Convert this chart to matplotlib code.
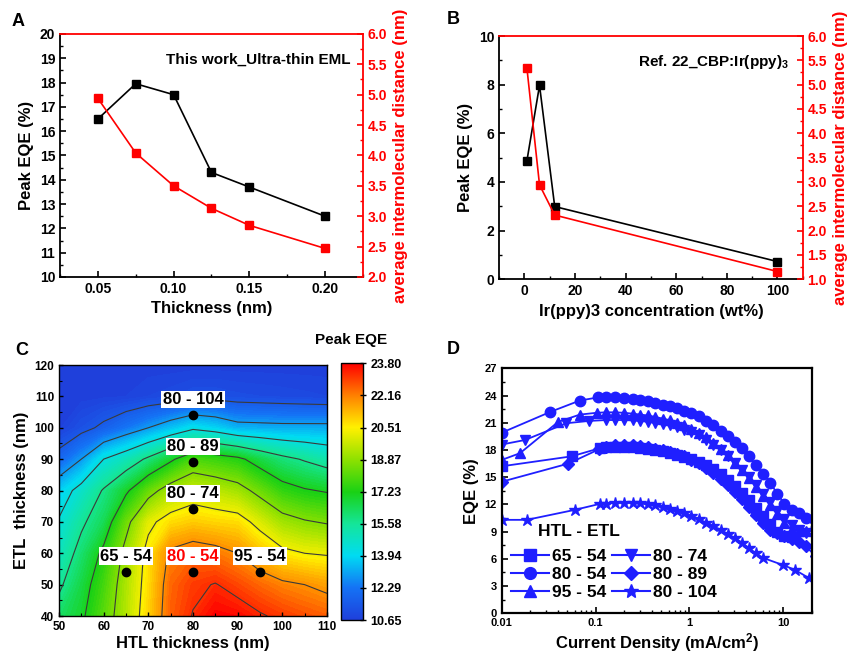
import numpy as np
import matplotlib
matplotlib.use("Agg")
import matplotlib.pyplot as plt
import matplotlib.cm as cm
from matplotlib.colors import LinearSegmentedColormap, Normalize
from matplotlib.ticker import MultipleLocator, FixedLocator, FormatStrFormatter, NullFormatter, LogLocator
from matplotlib.lines import Line2D

plt.rcParams['font.family'] = ['Liberation Sans', 'DejaVu Sans']
plt.rcParams['font.weight'] = 'bold'
plt.rcParams['axes.labelweight'] = 'bold'
plt.rcParams['mathtext.fontset'] = 'custom'
plt.rcParams['mathtext.rm'] = 'Liberation Sans:bold'
plt.rcParams['mathtext.bf'] = 'Liberation Sans:bold'
plt.rcParams['mathtext.default'] = 'bf'
plt.rcParams['xtick.direction'] = 'in'
plt.rcParams['ytick.direction'] = 'in'

# ---------------- panel A data
thick_a = [0.05, 0.075, 0.10, 0.125, 0.15, 0.20]
eqe_a = [16.5, 17.95, 17.5, 14.3, 13.7, 12.5]
dist_a = [4.94, 4.04, 3.50, 3.13, 2.85, 2.47]

# ---------------- panel B data
conc_b = [1, 6, 12, 100]
eqe_b = [4.86, 7.97, 2.99, 0.73]
dist_b = [5.35, 2.94, 2.32, 1.16]

# ---------------- panel C data (peak EQE map, rows = ETL, cols = HTL)
htl_c = [50, 55, 60, 65, 70, 75, 80, 85, 90, 95, 100, 105, 110]
etl_c = [40, 50, 60, 70, 80, 90, 100, 110, 120]
eqe_map = [
    [16.2, 16.9, 18.1, 19.4, 20.9, 22.55, 23.25, 23.8, 23.7, 23.3, 23.0, 22.75, 22.55],
    [15.5, 16.6, 17.8, 19.3, 20.75, 22.45, 23.0, 23.25, 22.85, 22.45, 22.1, 21.9, 21.65],
    [14.9, 16.1, 17.35, 19.05, 20.65, 22.1, 22.45, 22.25, 21.9, 21.2, 20.55, 20.3, 20.2],
    [14.4, 15.5, 16.4, 18.35, 20.05, 20.75, 21.0, 20.85, 20.75, 19.95, 19.15, 18.8, 18.6],
    [13.7, 14.7, 15.8, 16.9, 18.25, 19.25, 19.75, 19.5, 19.15, 18.35, 17.55, 17.2, 17.0],
    [11.9, 12.9, 14.3, 15.0, 15.9, 16.9, 17.9, 17.65, 17.35, 16.6, 16.0, 15.6, 15.2],
    [10.7, 11.2, 11.7, 12.3, 12.9, 13.5, 14.1, 13.8, 13.3, 13.25, 13.2, 13.2, 13.2],
    [10.65, 10.65, 10.7, 10.75, 10.9, 11.0, 11.2, 11.2, 11.1, 11.05, 11.0, 10.95, 10.9],
    [10.65, 10.65, 10.65, 10.65, 10.65, 10.65, 10.65, 10.65, 10.65, 10.65, 10.65, 10.65, 10.65],
]
line_levels = [11.5, 12.9, 14.3, 15.7, 17.1, 18.7, 20.3, 21.9, 23.2]
cbar_ticks = [10.65, 12.29, 13.94, 15.58, 17.23, 18.87, 20.51, 22.16, 23.80]
pt_htl = [80, 80, 80, 65, 80, 95]
pt_etl = [104, 89, 74, 54, 54, 54]
pt_text = ['80 - 104', '80 - 89', '80 - 74', '65 - 54', '80 - 54', '95 - 54']

# ---------------- panel D data (EQE vs current density)
j_grid = [0.13, 0.16, 0.2, 0.25, 0.3, 0.36, 0.43, 0.52, 0.62, 0.74, 0.88, 1.05, 1.25, 1.5,
          1.8, 2.15, 2.55, 3.05, 3.6, 4.3, 5.1, 6.1, 7.2, 8.6, 10.2, 12.2, 14.5, 17.3, 22]

j_6554 = [0.01, 0.0556, 0.111] + j_grid[:26]
q_6554 = [16.2, 17.3, 18.2, 18.3, 18.35, 18.35, 18.3, 18.2, 18.1, 18.0, 17.85, 17.7, 17.5,
          17.25, 17.0, 16.7, 16.3, 15.85, 15.3, 14.7, 14.0, 13.3, 12.5, 11.6, 10.7, 9.8,
          9.0, 8.5, 8.4]
j_8054 = [0.01, 0.033, 0.068, 0.107] + j_grid
q_8054 = [19.9, 22.2, 23.45, 23.8, 23.85, 23.85, 23.75, 23.6, 23.5, 23.35, 23.2, 23.0, 22.85,
          22.6, 22.35, 22.05, 21.7, 21.2, 20.7, 20.1, 19.5, 18.9, 18.2, 17.3, 16.3, 15.4,
          14.4, 13.2, 12.1, 11.4, 11.0, 10.5, 9.5]
j_9554 = [0.01, 0.0157, 0.040, 0.068, 0.103] + j_grid
q_9554 = [16.9, 17.65, 21.1, 21.9, 22.1, 22.15, 22.15, 22.1, 22.0, 21.9, 21.8, 21.65, 21.45,
          21.25, 21.0, 20.7, 20.35, 19.9, 19.4, 18.8, 18.1, 17.4, 16.6, 15.8, 14.9, 13.9,
          12.9, 11.9, 10.9, 9.9, 9.3, 9.1, 9.1, 9.0]
j_8074 = [0.01, 0.0177, 0.049, 0.085] + j_grid
q_8074 = [18.6, 19.1, 20.95, 21.2, 21.3, 21.3, 21.3, 21.25, 21.2, 21.1, 21.0, 20.85, 20.7,
          20.5, 20.25, 19.95, 19.6, 19.1, 18.6, 18.0, 17.3, 16.6, 15.8, 15.0, 14.1, 13.2,
          12.3, 11.3, 10.4, 9.7, 9.2, 8.9, 8.6]
j_8089 = [0.01, 0.0513, 0.11] + j_grid
q_8089 = [14.5, 16.5, 18.1, 18.35, 18.5, 18.55, 18.5, 18.4, 18.3, 18.15, 18.0, 17.8, 17.55,
          17.3, 16.95, 16.55, 16.05, 15.5, 14.85, 14.15, 13.4, 12.6, 11.7, 10.8, 9.9, 9.2,
          8.8, 8.5, 8.2, 7.9, 7.4, 6.3]
j_80104 = [0.01, 0.0185, 0.060, 0.111] + j_grid[:22] + [10.0, 13.2, 18.6, 24]
q_80104 = [10.3, 10.3, 11.4, 12.06, 12.1, 12.2, 12.2, 12.2, 12.15, 12.0, 11.9, 11.7, 11.5,
           11.25, 11.0, 10.7, 10.4, 10.0, 9.6, 9.2, 8.75, 8.3, 7.8, 7.2, 6.6, 6.1,
           5.3, 4.8, 3.9, 3.3]

fig = plt.figure(figsize=(8.51, 6.57), dpi=100)


def style_spines(ax, lw=1.3):
    for s in ax.spines.values():
        s.set_linewidth(lw)


def twin_dist(ax, x, y, lo, hi):
    # red right-hand axis: average intermolecular distance
    ax2 = ax.twinx()
    ax2.plot(x, y, '-s', color='red', ms=6, lw=1.2)
    ax2.set_ylim(lo, hi)
    ax2.yaxis.set_major_locator(MultipleLocator(0.5))
    ax2.yaxis.set_minor_locator(MultipleLocator(0.25))
    ax2.yaxis.set_major_formatter(FormatStrFormatter('%.1f'))
    ax2.tick_params(labelsize=10, length=4, width=1.2, colors='red')
    ax2.tick_params(which='minor', length=2.5, width=1, colors='red')
    ax2.set_ylabel('average intermolecular distance (nm)', fontsize=12, color='red')
    style_spines(ax)
    style_spines(ax2)
    ax.spines['right'].set_visible(False)
    ax.spines['top'].set_visible(False)
    ax2.spines['left'].set_visible(False)
    ax2.spines['bottom'].set_visible(False)
    ax2.spines['right'].set_color('red')
    ax2.spines['top'].set_color('red')
    return ax2


# ================= A
axA = fig.add_axes([0.0705, 0.5784, 0.356, 0.370])
axA.plot(thick_a, eqe_a, '-s', color='black', ms=6, lw=1.2)
axA.set_xlim(0.025, 0.225)
axA.set_ylim(10, 20)
axA.xaxis.set_major_locator(FixedLocator([0.05, 0.10, 0.15, 0.20]))
axA.xaxis.set_major_formatter(FormatStrFormatter('%.2f'))
axA.xaxis.set_minor_locator(MultipleLocator(0.025))
axA.yaxis.set_major_locator(MultipleLocator(1))
axA.yaxis.set_minor_locator(MultipleLocator(0.5))
axA.tick_params(labelsize=10, length=4, width=1.2)
axA.tick_params(which='minor', length=2.5, width=1)
axA.set_xlabel('Thickness (nm)', fontsize=12)
axA.set_ylabel('Peak EQE (%)', fontsize=12)
axA.text(0.96, 0.895, 'This work_Ultra-thin EML', transform=axA.transAxes,
         ha='right', va='center', fontsize=11)
twin_dist(axA, thick_a, dist_a, 2.0, 6.0)

# ================= B
axB = fig.add_axes([0.5864, 0.5749, 0.3569, 0.3703])
axB.plot(conc_b, eqe_b, '-s', color='black', ms=6, lw=1.2)
axB.set_xlim(-10, 110)
axB.set_ylim(0, 10)
axB.xaxis.set_major_locator(FixedLocator([0, 20, 40, 60, 80, 100]))
axB.xaxis.set_minor_locator(MultipleLocator(10))
axB.yaxis.set_major_locator(MultipleLocator(2))
axB.yaxis.set_minor_locator(MultipleLocator(1))
axB.tick_params(labelsize=10, length=4, width=1.2)
axB.tick_params(which='minor', length=2.5, width=1)
axB.set_xlabel('Ir(ppy)3 concentration (wt%)', fontsize=12)
axB.set_ylabel('Peak EQE (%)', fontsize=12)
axB.text(0.955, 0.895, r'Ref. 22_CBP:Ir(ppy)$_3$', transform=axB.transAxes,
         ha='right', va='center', fontsize=11)
twin_dist(axB, conc_b, dist_b, 1.0, 6.0)

# ================= C
cmap = LinearSegmentedColormap.from_list('eqe', [
    (0.000, (0.12, 0.25, 0.86)),
    (0.125, (0.08, 0.45, 0.96)),
    (0.250, (0.00, 0.86, 0.95)),
    (0.375, (0.08, 0.90, 0.60)),
    (0.500, (0.10, 0.82, 0.08)),
    (0.625, (0.55, 0.88, 0.00)),
    (0.750, (1.00, 0.94, 0.00)),
    (0.875, (1.00, 0.50, 0.00)),
    (1.000, (1.00, 0.00, 0.00)),
])
axC = fig.add_axes([0.0693, 0.0624, 0.3149, 0.382])
H, E = np.meshgrid(htl_c, etl_c)
Z = np.array(eqe_map)
axC.contourf(H, E, Z, levels=np.linspace(10.6, 23.85, 90), cmap=cmap,
             norm=Normalize(10.65, 23.80))
axC.contour(H, E, Z, levels=line_levels, colors='#3a3a3a', linewidths=0.8)
axC.plot(pt_htl, pt_etl, 'o', color='black', ms=6)
for x, y, t in zip(pt_htl, pt_etl, pt_text):
    axC.annotate(t, (x, y), xytext=(0, 6), textcoords='offset points',
                 ha='center', va='bottom', fontsize=12,
                 color='red' if t == '80 - 54' else 'black',
                 bbox=dict(boxstyle='square,pad=0.08', fc='white', ec='none'))
axC.set_xlim(50, 110)
axC.set_ylim(40, 120)
axC.xaxis.set_major_locator(MultipleLocator(10))
axC.xaxis.set_minor_locator(MultipleLocator(5))
axC.yaxis.set_major_locator(MultipleLocator(10))
axC.yaxis.set_minor_locator(MultipleLocator(5))
axC.tick_params(labelsize=8.5, length=3, width=1)
axC.tick_params(which='minor', length=2, width=0.8)
axC.set_xlabel('HTL thickness (nm)', fontsize=12, labelpad=2)
axC.set_ylabel('ETL  thickness (nm)', fontsize=12)
style_spines(axC, 1.0)

cax = fig.add_axes([0.4003, 0.0563, 0.0259, 0.3907])
cb = fig.colorbar(cm.ScalarMappable(norm=Normalize(10.65, 23.80), cmap=cmap), cax=cax)
cb.set_ticks(cbar_ticks)
cb.ax.set_yticklabels(['%.2f' % t for t in cbar_ticks])
cb.ax.tick_params(labelsize=9, length=4, width=1, direction='inout')
cb.outline.set_linewidth(1)
fig.text(0.4128, 0.4825, 'Peak EQE', ha='center', va='center', fontsize=11)

# ================= D
axD = fig.add_axes([0.5895, 0.0665, 0.3643, 0.3729])
blue = '#1f1fff'
series_d = [
    (j_6554, q_6554, 's', '65 - 54'),
    (j_8054, q_8054, 'o', '80 - 54'),
    (j_9554, q_9554, '^', '95 - 54'),
    (j_8074, q_8074, 'v', '80 - 74'),
    (j_8089, q_8089, 'D', '80 - 89'),
    (j_80104, q_80104, '*', '80 - 104'),
]
handles = []
for jj, qq, mk, lab in series_d:
    ms = 9 if mk == '*' else (6.5 if mk == 'D' else 7.5)
    axD.plot(jj, qq, '-', marker=mk, color=blue, ms=ms, lw=1.3, mec=blue)
    handles.append(Line2D([], [], color=blue, marker=mk, ms=ms + 1, lw=1.5, label=lab))
axD.set_xscale('log')
axD.set_xlim(0.01, 20)
axD.set_ylim(0, 27)
axD.xaxis.set_major_locator(FixedLocator([0.01, 0.1, 1, 10]))
axD.set_xticklabels(['0.01', '0.1', '1', '10'])
axD.xaxis.set_minor_locator(LogLocator(base=10, subs=np.arange(2, 10)))
axD.xaxis.set_minor_formatter(NullFormatter())
axD.yaxis.set_major_locator(MultipleLocator(3))
axD.yaxis.set_minor_locator(MultipleLocator(1.5))
axD.tick_params(labelsize=8, length=4, width=1.2)
axD.tick_params(which='minor', length=2.5, width=1)
axD.set_xlabel('Current Density (mA/cm$^2$)', fontsize=12, labelpad=2)
axD.set_ylabel('EQE (%)', fontsize=12)
style_spines(axD, 1.6)
axD.text(0.117, 0.332, 'HTL - ETL', transform=axD.transAxes, ha='left', va='center',
         fontsize=12.5)
axD.legend(handles=handles, ncol=2, frameon=False,
           loc='upper left', bbox_to_anchor=(-0.005, 0.305), fontsize=12.5,
           handlelength=2.2, handletextpad=0.2, columnspacing=0.3, labelspacing=0.15,
           borderpad=0.1)

# panel letters
fig.text(0.013, 0.967, 'A', fontsize=13, ha='left', va='center')
fig.text(0.525, 0.970, 'B', fontsize=13, ha='left', va='center')
fig.text(0.018, 0.467, 'C', fontsize=13, ha='left', va='center')
fig.text(0.525, 0.468, 'D', fontsize=13, ha='left', va='center')

fig.savefig('out.png', dpi=100)
